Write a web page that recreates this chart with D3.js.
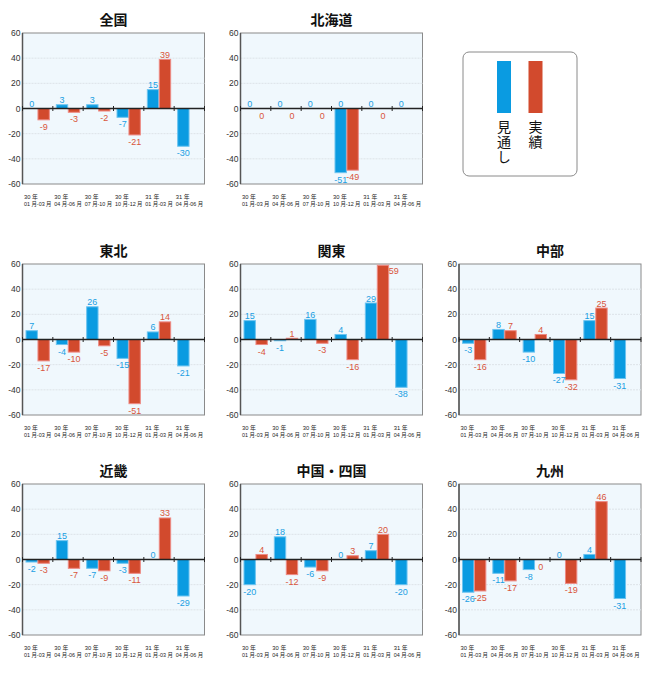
<!DOCTYPE html>
<html lang="ja">
<head>
    <meta charset="UTF-8">
    <title>見通し・実績</title>
    <script src="https://cdn.jsdelivr.net/npm/d3@7"></script>
    <style>
        body { margin: 0; background: #fff; }
        svg { display: block; }
        .title { font-family: "Noto Sans CJK JP", sans-serif; font-size: 14px; font-weight: bold; fill: #111; text-anchor: middle; }
        .ytick { font-family: "Liberation Sans", Arial, sans-serif; font-size: 8.5px; fill: #333; text-anchor: end; }
        .xlab { font-family: "Liberation Sans", "Noto Sans CJK JP", sans-serif; font-size: 5.8px; fill: #222; }
        .val { font-family: "Liberation Sans", Arial, sans-serif; font-size: 9px; text-anchor: middle; }
        .legend-text { font-family: "Noto Sans CJK JP", sans-serif; font-size: 14px; fill: #111;
                       writing-mode: vertical-rl; text-anchor: start; letter-spacing: 1px; }
    </style>
</head>
<body>
<svg id="chart" width="650" height="676"></svg>
<script>
    // ---- data ----
    const periodYears = ["30 年", "30 年", "30 年", "30 年", "31 年", "31 年"];
    const periodMonths = ["01 月-03 月", "04 月-06 月", "07 月-10 月", "10 月-12 月", "01 月-03 月", "04 月-06 月"];
    const yTicks = [60, 40, 20, 0, -20, -40, -60];
    const seriesNames = ["見通し", "実績"];

    const regions = ["全国", "北海道", "東北", "関東", "中部", "近畿", "中国・四国", "九州"];

    const zenkokuForecast = [0, 3, 3, -7, 15, -30];
    const zenkokuActual = [-9, -3, -2, -21, 39];
    const hokkaidoForecast = [0, 0, 0, -51, 0, 0];
    const hokkaidoActual = [0, 0, 0, -49, 0];
    const tohokuForecast = [7, -4, 26, -15, 6, -21];
    const tohokuActual = [-17, -10, -5, -51, 14];
    const kantoForecast = [15, -1, 16, 4, 29, -38];
    const kantoActual = [-4, 1, -3, -16, 59];
    const chubuForecast = [-3, 8, -10, -27, 15, -31];
    const chubuActual = [-16, 7, 4, -32, 25];
    const kinkiForecast = [-2, 15, -7, -3, 0, -29];
    const kinkiActual = [-3, -7, -9, -11, 33];
    const chugokuForecast = [-20, 18, -6, 0, 7, -20];
    const chugokuActual = [4, -12, -9, 3, 20];
    const kyushuForecast = [-26, -11, -8, 0, 4, -31];
    const kyushuActual = [-25, -17, 0, -19, 46];

    // the source shows an extra "0" label above the 北海道 10-12月 見通し bar
    const strayLabels = [{ region: "北海道", period: 3, series: 0, text: "0" }];

    const forecasts = [zenkokuForecast, hokkaidoForecast, tohokuForecast, kantoForecast,
                       chubuForecast, kinkiForecast, chugokuForecast, kyushuForecast];
    const actuals = [zenkokuActual, hokkaidoActual, tohokuActual, kantoActual,
                     chubuActual, kinkiActual, chugokuActual, kyushuActual];

    // ---- layout ----
    const colX = [22.5, 240.5, 459];
    const rowY = [33, 264, 484];
    const slots = [[0, 0], [0, 1], [1, 0], [1, 1], [1, 2], [2, 0], [2, 1], [2, 2]];
    const W = 182, H = 151;

    const barFill = ["#0a9be1", "#d24a2d"];
    const barStroke = ["#6cc4f0", "#ee8a84"];
    const textFill = ["#1a9fe3", "#d9553b"];

    const svg = d3.select("#chart");

    const x = d3.scaleBand().domain(d3.range(periodYears.length)).range([0, W]);
    const inner = d3.scaleBand().domain([0, 1]).range([3.5, x.bandwidth() - 3.5]).paddingInner(0.05);
    const y = d3.scaleLinear().domain([-60, 60]).range([H, 0]);

    regions.forEach((name, i) => {
        const [r, c] = slots[i];
        const g = svg.append("g").attr("transform", `translate(${colX[c]},${rowY[r]})`);

        g.append("rect")
            .attr("width", W).attr("height", H)
            .attr("fill", "#f0f8fd")
            .attr("stroke", "#8a8a8a").attr("stroke-width", 1);

        // grid
        g.selectAll(".grid")
            .data([40, 20, -20, -40])
            .enter().append("line")
            .attr("x1", 0).attr("x2", W)
            .attr("y1", d => y(d)).attr("y2", d => y(d))
            .attr("stroke", "#dde3e8").attr("stroke-width", 1)
            .attr("stroke-dasharray", "2,1");

        // left axis
        g.append("line")
            .attr("x1", 0).attr("x2", 0).attr("y1", 0).attr("y2", H)
            .attr("stroke", "#555").attr("stroke-width", 1.5);

        g.selectAll(".ytick")
            .data(yTicks)
            .enter().append("text")
            .attr("class", "ytick")
            .attr("x", -2)
            .attr("y", d => y(d) + 3)
            .text(d => d);

        // title
        g.append("text")
            .attr("class", "title")
            .attr("x", W / 2).attr("y", -8)
            .text(name);

        // bars
        const rows = [];
        [forecasts[i], actuals[i]].forEach((vals, s) => {
            vals.forEach((v, p) => rows.push({ p, s, v }));
        });

        g.selectAll(".bar")
            .data(rows)
            .enter().append("rect")
            .attr("x", d => x(d.p) + inner(d.s))
            .attr("width", inner.bandwidth())
            .attr("y", d => Math.min(y(d.v), y(0)))
            .attr("height", d => Math.abs(y(d.v) - y(0)))
            .attr("fill", d => barFill[d.s])
            .attr("stroke", d => barStroke[d.s])
            .attr("stroke-width", d => d.v === 0 ? 0 : 1);

        // zero line with group ticks
        g.append("line")
            .attr("x1", 0).attr("x2", W).attr("y1", y(0)).attr("y2", y(0))
            .attr("stroke", "#222").attr("stroke-width", 1.5);
        g.selectAll(".ztick")
            .data(d3.range(periodYears.length + 1))
            .enter().append("line")
            .attr("x1", d => d * x.bandwidth()).attr("x2", d => d * x.bandwidth())
            .attr("y1", y(0) - 2.5).attr("y2", y(0) + 2.5)
            .attr("stroke", "#222").attr("stroke-width", 1);

        // value labels
        const above = d => d.v > 0 || (d.v === 0 && d.s === 0);
        const tooHigh = d => above(d) && y(d.v) < 10;
        g.selectAll(".val")
            .data(rows)
            .enter().append("text")
            .attr("class", "val")
            .attr("fill", d => textFill[d.s])
            .attr("text-anchor", d => tooHigh(d) ? "start" : "middle")
            .attr("x", d => {
                const cx = x(d.p) + inner(d.s) + inner.bandwidth() / 2;
                return tooHigh(d) ? cx + inner.bandwidth() / 2 + 5 : cx;
            })
            .attr("y", d => {
                if (above(d)) return tooHigh(d) ? y(d.v) + 9 : y(d.v) - 1.5;
                return y(d.v) + 10;
            })
            .text(d => d.v);

        strayLabels.filter(l => l.region === name).forEach(l => {
            g.append("text")
                .attr("class", "val")
                .attr("fill", textFill[l.series])
                .attr("x", x(l.period) + inner(l.series) + inner.bandwidth() / 2)
                .attr("y", y(0) - 1.5)
                .text(l.text);
        });

        // period labels
        const xl = g.selectAll(".xlab")
            .data(d3.range(periodYears.length))
            .enter().append("g")
            .attr("transform", d => `translate(${x(d) + 1.5},${H})`);
        xl.append("text").attr("class", "xlab")
            .attr("y", 14.5)
            .text(d => periodYears[d]);
        xl.append("text").attr("class", "xlab")
            .attr("y", 21.5)
            .attr("textLength", 27.5).attr("lengthAdjust", "spacingAndGlyphs")
            .text(d => periodMonths[d]);
    });

    // legend
    const lg = svg.append("g").attr("transform", "translate(463,52)");
    lg.append("rect")
        .attr("width", 114).attr("height", 124).attr("rx", 6)
        .attr("fill", "#fff").attr("stroke", "#8a8a8a").attr("stroke-width", 1);
    const lx = d3.scaleOrdinal().domain(seriesNames).range([41, 72.5]);
    seriesNames.forEach((s, k) => {
        lg.append("rect")
            .attr("x", lx(s) - 7).attr("y", 9)
            .attr("width", 14).attr("height", 52)
            .attr("fill", barFill[k]);
        lg.append("text")
            .attr("class", "legend-text")
            .attr("x", lx(s))
            .attr("y", 68)
            .text(s);
    });
</script>
</body>
</html>
